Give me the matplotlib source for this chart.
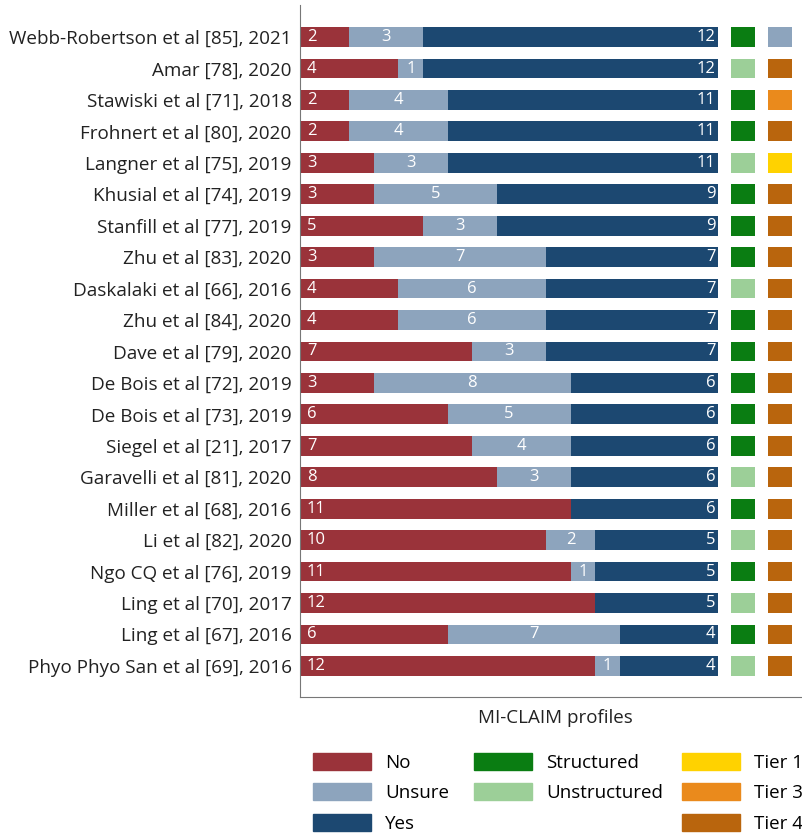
import numpy as np
import matplotlib.pyplot as plt
from matplotlib.patches import Patch

plt.rcParams['font.family'] = ['Open Sans', 'DejaVu Sans']

# Data
studies = [
    "Webb-Robertson et al [85], 2021", "Amar [78], 2020", "Stawiski et al [71], 2018",
    "Frohnert et al [80], 2020", "Langner et al [75], 2019", "Khusial et al [74], 2019",
    "Stanfill et al [77], 2019", "Zhu et al [83], 2020", "Daskalaki et al [66], 2016",
    "Zhu et al [84], 2020", "Dave et al [79], 2020", "De Bois et al [72], 2019",
    "De Bois et al [73], 2019", "Siegel et al [21], 2017", "Garavelli et al [81], 2020",
    "Miller et al [68], 2016", "Li et al [82], 2020", "Ngo CQ et al [76], 2019",
    "Ling et al [70], 2017", "Ling et al [67], 2016", "Phyo Phyo San et al [69], 2016",
]
no_counts = [2, 4, 2, 2, 3, 3, 5, 3, 4, 4, 7, 3, 6, 7, 8, 11, 10, 11, 12, 6, 12]
unsure_counts = [3, 1, 4, 4, 3, 5, 3, 7, 6, 6, 3, 8, 5, 4, 3, 0, 2, 1, 0, 7, 1]
yes_counts = [12, 12, 11, 11, 11, 9, 9, 7, 7, 7, 7, 6, 6, 6, 6, 6, 5, 5, 5, 4, 4]
data_type = ["S", "U", "S", "S", "U", "S", "S", "S", "U", "S", "S", "S",
             "S", "S", "U", "S", "U", "S", "U", "S", "U"]
tier = ["?", "4", "3", "4", "1", "4", "4", "4", "4", "4", "4", "4",
        "4", "4", "4", "4", "4", "4", "4", "4", "4"]

c_no, c_unsure, c_yes = "#9a333a", "#8da4bd", "#1c4871"
type_colors = {"S": "#0a7d12", "U": "#9ccf98"}
tier_colors = {"1": "#ffd200", "3": "#ea8a1c", "4": "#b9650d", "?": "#8da4bd"}

no = np.array(no_counts)
unsure = np.array(unsure_counts)
yes = np.array(yes_counts)
y = np.arange(len(studies))

fig = plt.figure(figsize=(8.02, 8.36), dpi=100)
ax = fig.add_axes([300 / 802, 139 / 836, 1 - 300 / 802 + 0.01, 692 / 836])

h = 0.63
ax.barh(y, no, height=h, color=c_no)
ax.barh(y, unsure, left=no, height=h, color=c_unsure)
ax.barh(y, yes, left=no + unsure, height=h, color=c_yes)
ax.barh(y, 0.98, left=17.52, height=h, color=[type_colors[t] for t in data_type])
ax.barh(y, 0.98, left=19.03, height=h, color=[tier_colors[t] for t in tier])

for i in range(len(studies)):
    if no[i] > 0:
        ax.annotate(str(no[i]), (0, i), xytext=(5, 0), textcoords="offset points",
                    ha="left", va="center", color="white", fontsize=12)
    if unsure[i] > 0:
        ax.text(no[i] + unsure[i] / 2, i, str(unsure[i]), ha="center", va="center",
                color="white", fontsize=12)
    if yes[i] > 0:
        ax.annotate(str(yes[i]), (no[i] + unsure[i] + yes[i], i), xytext=(-2, 0),
                    textcoords="offset points", ha="right", va="center",
                    color="white", fontsize=12)

ax.set_xlim(0, 20.4 + 0.01 * 802 / 24.6)
ax.set_ylim(20.99, -1.02)
ax.set_yticks(y)
ax.set_yticklabels(studies, fontsize=13.6, color="#222222")
ax.set_xticks([])
ax.tick_params(axis="y", length=0, pad=6)
for s in ["top", "right"]:
    ax.spines[s].set_visible(False)
for s in ["left", "bottom"]:
    ax.spines[s].set_color("#777777")
ax.set_xlabel("MI-CLAIM profiles", fontsize=13.5, color="#222222")
ax.xaxis.set_label_coords((555 - 300) / (ax.get_position().width * 802), -12 / 692)

leg_kw = dict(loc="upper left", frameon=False, borderpad=0, borderaxespad=0,
              fontsize=13.5, handleheight=1.0, labelspacing=0.62,
              handlelength=3.1, handletextpad=0.75)
h1 = [Patch(color=c_no, label="No"), Patch(color=c_unsure, label="Unsure"),
      Patch(color=c_yes, label="Yes")]
h2 = [Patch(color=type_colors["S"], label="Structured"),
      Patch(color=type_colors["U"], label="Unstructured")]
h3 = [Patch(color=tier_colors["1"], label="Tier 1"),
      Patch(color=tier_colors["3"], label="Tier 3"),
      Patch(color=tier_colors["4"], label="Tier 4")]
top = 1 - 753 / 836
fig.legend(handles=h1, bbox_to_anchor=(313 / 802, top), **leg_kw)
fig.legend(handles=h2, bbox_to_anchor=(474 / 802, top), **leg_kw)
fig.legend(handles=h3, bbox_to_anchor=(682 / 802, top), **leg_kw)

fig.savefig("out.png", dpi=100)
